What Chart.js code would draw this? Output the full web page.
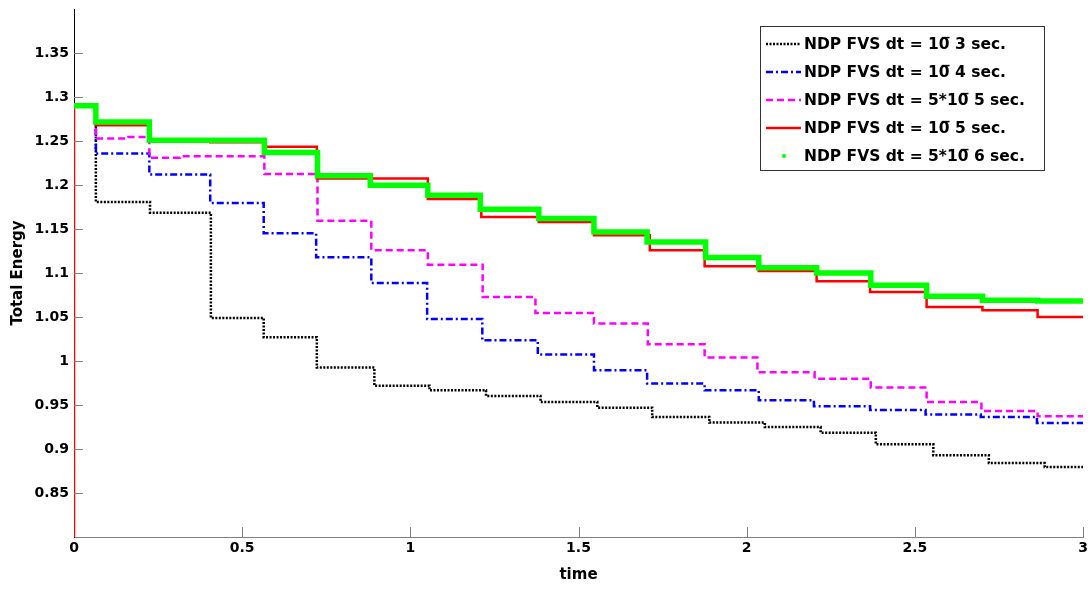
<!DOCTYPE html>
<html><head><meta charset="utf-8">
<script src="https://cdn.jsdelivr.net/npm/chart.js@4.4.1/dist/chart.umd.min.js"></script>
<style>html,body{margin:0;padding:0;background:#fff;} canvas{display:block;}</style>
</head><body>
<canvas id="c" width="1091" height="589"></canvas>
<script>
// ---- data ----
const seriesLabels = [
  'NDP FVS dt = 10\u0305 3 sec.',
  'NDP FVS dt = 10\u0305 4 sec.',
  'NDP FVS dt = 5*10\u0305 5 sec.',
  'NDP FVS dt = 10\u0305 5 sec.',
  'NDP FVS dt = 5*10\u0305 6 sec.'
];
const tBlack = [0, 0.065, 0.226, 0.407, 0.564, 0.722, 0.893, 1.057, 1.225, 1.387, 1.556, 1.719, 1.889, 2.054, 2.22, 2.384, 2.555, 2.72, 2.886, 3];
const eBlack = [1.29, 1.1807, 1.1686, 1.0489, 1.027, 0.9926, 0.972, 0.9667, 0.9603, 0.9534, 0.947, 0.9364, 0.930, 0.925, 0.9186, 0.9053, 0.8928, 0.8841, 0.8795, 0.8795];
const tBlue = [0, 0.065, 0.224, 0.405, 0.564, 0.72, 0.884, 1.05, 1.214, 1.379, 1.546, 1.704, 1.875, 2.036, 2.2, 2.367, 2.532, 2.696, 2.863, 3];
const eBlue = [1.29, 1.2357, 1.2118, 1.1795, 1.1452, 1.1178, 1.0886, 1.0477, 1.0235, 1.0073, 0.9894, 0.9743, 0.9667, 0.9553, 0.9487, 0.9444, 0.9391, 0.9364, 0.9295, 0.9295];
const tMagenta = [0, 0.065, 0.162, 0.224, 0.315, 0.566, 0.724, 0.884, 1.052, 1.215, 1.372, 1.546, 1.706, 1.875, 2.032, 2.202, 2.369, 2.535, 2.698, 2.865, 3];
const eMagenta = [1.29, 1.2527, 1.2545, 1.2311, 1.2326, 1.2125, 1.1595, 1.1258, 1.1095, 1.0727, 1.0545, 1.0425, 1.019, 1.004, 0.9871, 0.9798, 0.9698, 0.9534, 0.9432, 0.9372, 0.9372];
const tRed = [0, 0, 0.065, 0.224, 0.405, 0.566, 0.722, 1.052, 1.211, 1.382, 1.546, 1.712, 1.875, 2.036, 2.208, 2.367, 2.535, 2.701, 2.865, 3];
const eRed = [0, 1.29, 1.268, 1.2508, 1.2485, 1.2435, 1.2075, 1.1842, 1.1636, 1.158, 1.1428, 1.1258, 1.1076, 1.1023, 1.0906, 1.0784, 1.0614, 1.0576, 1.05, 1.05];
const tGreen = [0, 0.065, 0.224, 0.566, 0.724, 0.881, 1.052, 1.208, 1.382, 1.546, 1.704, 1.878, 2.036, 2.208, 2.369, 2.535, 2.701, 2.865, 3];
const eGreen = [1.29, 1.2716, 1.2508, 1.2368, 1.2105, 1.1997, 1.1883, 1.1724, 1.1618, 1.1466, 1.1352, 1.1175, 1.1061, 1.100, 1.086, 1.0735, 1.069, 1.0682, 1.0682];
const xTicks = [0, 0.5, 1, 1.5, 2, 2.5, 3];
const yTicks = [0.85, 0.9, 0.95, 1, 1.05, 1.1, 1.15, 1.2, 1.25, 1.3, 1.35];

function pts(t, e) { return t.map((x, i) => ({x: x, y: e[i]})); }

const datasets = [
  {label: seriesLabels[0], data: pts(tBlack, eBlack), borderColor: '#000000', borderWidth: 2.5, borderDash: [2, 1.5], order: 4},
  {label: seriesLabels[1], data: pts(tBlue, eBlue), borderColor: '#0000ff', borderWidth: 2.5, borderDash: [7, 3, 2, 3], order: 3},
  {label: seriesLabels[2], data: pts(tMagenta, eMagenta), borderColor: '#ff00ff', borderWidth: 2.5, borderDash: [7, 4], order: 2},
  {label: seriesLabels[3], data: pts(tRed, eRed), borderColor: '#ff0000', borderWidth: 2.5, borderDash: [], order: 1},
  {label: seriesLabels[4], data: pts(tGreen, eGreen), borderColor: '#00ff00', borderWidth: 5.5, borderDash: [], order: 0, legendDot: true}
];
datasets.forEach(d => { d.stepped = 'before'; d.fill = false; d.pointRadius = 0; d.tension = 0; });

const FONT = '"DejaVu Sans", "Liberation Sans", Arial, sans-serif';

const tickPlugin = {
  id: 'inTicks',
  afterDatasetsDraw(chart) {
    const ctx = chart.ctx, xs = chart.scales.x, ys = chart.scales.y;
    const ca = chart.chartArea;
    ctx.save();
    ctx.strokeStyle = '#808080';
    ctx.lineWidth = 1;
    ctx.beginPath();
    yTicks.forEach(v => {
      const y = Math.round(ys.getPixelForValue(v)) + 0.5;
      ctx.moveTo(ca.left, y); ctx.lineTo(ca.left + 9, y);
    });
    xTicks.forEach(v => {
      if (v === 0) return;
      const x = Math.round(xs.getPixelForValue(v)) + 0.5;
      ctx.moveTo(x, ca.bottom); ctx.lineTo(x, ca.bottom - 10);
    });
    ctx.stroke();
    ctx.restore();
  }
};

const legendPlugin = {
  id: 'boxLegend',
  afterDraw(chart) {
    const ctx = chart.ctx;
    ctx.save();
    ctx.fillStyle = '#ffffff';
    ctx.fillRect(761, 26, 284, 144);
    ctx.strokeStyle = '#333333';
    ctx.lineWidth = 1;
    ctx.strokeRect(760.5, 26.5, 284, 144);
    chart.data.datasets.forEach((d, i) => {
      const y = 45 + i * 28;
      if (d.legendDot) {
        ctx.fillStyle = d.borderColor;
        ctx.beginPath(); ctx.arc(784, y - 1, 2, 0, Math.PI * 2); ctx.fill();
      } else {
        ctx.strokeStyle = d.borderColor;
        ctx.lineWidth = d.borderWidth;
        ctx.setLineDash(d.borderDash || []);
        ctx.beginPath(); ctx.moveTo(766, y - 1); ctx.lineTo(801, y - 1); ctx.stroke();
        ctx.setLineDash([]);
      }
      ctx.fillStyle = '#000000';
      ctx.font = 'bold 15.5px ' + FONT;
      ctx.textBaseline = 'middle';
      ctx.textAlign = 'left';
      ctx.fillText(d.label, 804, y);
    });
    ctx.restore();
  }
};

new Chart(document.getElementById('c'), {
  type: 'line',
  data: {datasets: datasets},
  options: {
    responsive: false,
    animation: false,
    devicePixelRatio: 1,
    layout: {padding: {top: 9, right: 8, left: 0, bottom: 0}},
    plugins: {legend: {display: false}, tooltip: {enabled: false}},
    scales: {
      x: {
        type: 'linear', min: 0, max: 3,
        afterBuildTicks: s => { s.ticks = xTicks.map(v => ({value: v})); },
        afterFit: s => { s.height = 52; s.paddingLeft = 0; s.paddingRight = 0; },
        grid: {drawOnChartArea: false, drawTicks: false},
        border: {color: '#808080', width: 1},
        ticks: {color: '#000', font: {family: FONT, size: 14, weight: 'bold'}, padding: 3, maxRotation: 0, autoSkip: false,
                callback: v => String(Number(v.toFixed(2)))},
        title: {display: true, text: 'time', color: '#000', font: {family: FONT, size: 15, weight: 'bold'}, padding: {top: 0, bottom: 5}}
      },
      y: {
        type: 'linear', min: 0.8, max: 1.4,
        afterBuildTicks: s => { s.ticks = yTicks.map(v => ({value: v})); },
        afterFit: s => { s.width = 74; s.paddingTop = 0; s.paddingBottom = 0; },
        grid: {drawOnChartArea: false, drawTicks: false},
        border: {color: '#000000', width: 1},
        ticks: {color: '#000', font: {family: FONT, size: 14, weight: 'bold'}, padding: 5, autoSkip: false,
                callback: v => String(Number(v.toFixed(2)))},
        title: {display: true, text: 'Total Energy', color: '#000', font: {family: FONT, size: 15, weight: 'bold'}, padding: {top: 9, bottom: 0}}
      }
    }
  },
  plugins: [tickPlugin, legendPlugin]
});
</script>
</body></html>
